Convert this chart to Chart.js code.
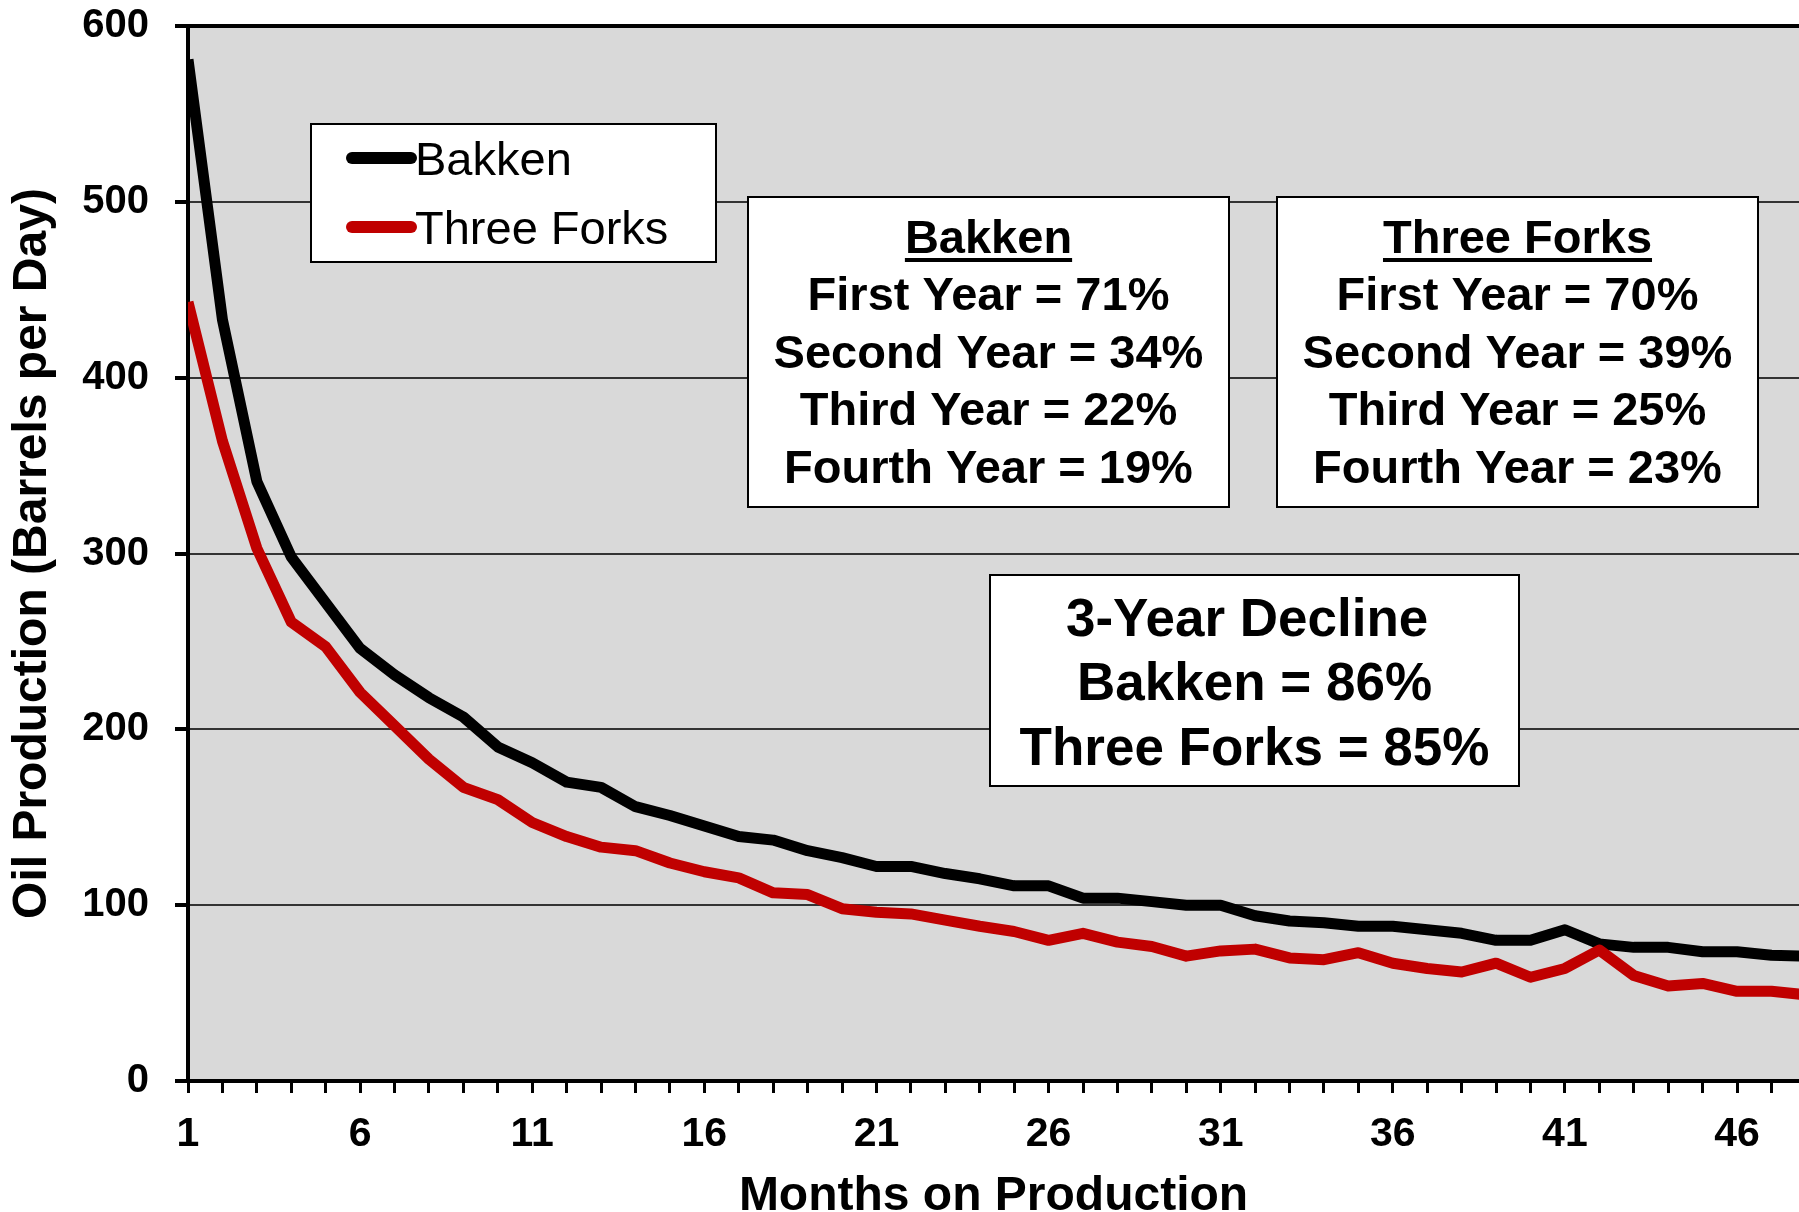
<!DOCTYPE html>
<html>
<head>
<meta charset="utf-8">
<title>Bakken vs Three Forks decline</title>
<script src="https://cdn.jsdelivr.net/npm/chart.js@4.4.1/dist/chart.umd.min.js"></script>
<style>
    html, body { margin: 0; padding: 0; background: #fff; overflow: hidden; }
    #wrap { width: 1799px; height: 1212px; position: relative; }
</style>
</head>
<body>
<div id="wrap"><canvas id="declineChart"></canvas></div>
<script>
// months on production
const months = [1, 2, 3, 4, 5, 6, 7, 8, 9, 10, 11, 12, 13, 14, 15, 16, 17, 18, 19, 20, 21, 22, 23, 24,
                25, 26, 27, 28, 29, 30, 31, 32, 33, 34, 35, 36, 37, 38, 39, 40, 41, 42, 43, 44, 45, 46, 47, 48];

// oil production, barrels per day
const bakken = [581, 433, 341, 298, 272, 246, 231, 218, 207, 190, 181, 170, 167, 156, 151, 145, 139, 137, 131, 127, 122, 122, 118, 115,
                111, 111, 104, 104, 102, 100, 100, 94, 91, 90, 88, 88, 86, 84, 80, 80, 86, 78, 76, 76, 73.5, 73.5, 71.5, 71];
const threeForks = [443, 364, 303, 261, 247, 221, 202, 183, 167, 160, 147, 139, 133, 131, 124, 119, 115.5, 107, 106, 98, 96, 95, 91.5, 88,
                    85, 80, 84, 79, 76.5, 71, 74, 75, 70, 69, 73, 67, 64, 62, 67, 59, 64, 74.5, 60, 54, 55.5, 51, 51, 49];

const xTickLabels = [1, 6, 11, 16, 21, 26, 31, 36, 41, 46];
const seriesNames = ['Bakken', 'Three Forks'];
const seriesColors = ['#000000', '#c00000'];

const bakkenBox = ['Bakken', 'First Year = 71%', 'Second Year = 34%', 'Third Year = 22%', 'Fourth Year = 19%'];
const forksBox = ['Three Forks', 'First Year = 70%', 'Second Year = 39%', 'Third Year = 25%', 'Fourth Year = 23%'];
const declineBox = ['3-Year Decline ', 'Bakken = 86%', 'Three Forks = 85%'];

const FONT = "'Liberation Sans', Arial, sans-serif";

// draws plot background, legend and the text boxes
const decorPlugin = {
    id: 'decor',
    beforeDraw(chart) {
        const a = chart.chartArea;
        const ctx = chart.ctx;
        ctx.save();
        ctx.fillStyle = '#d9d9d9';
        ctx.fillRect(a.left, a.top, a.right - a.left, a.bottom - a.top);
        ctx.restore();
    },
    afterDatasetsDraw(chart) {
        const ctx = chart.ctx;
        ctx.save();

        // legend
        drawBox(ctx, 311, 124, 716, 262);
        const legendY = [158, 227];
        seriesNames.forEach((name, i) => {
            ctx.strokeStyle = seriesColors[i];
            ctx.lineWidth = 12;
            ctx.lineCap = 'round';
            ctx.beginPath();
            ctx.moveTo(352, legendY[i]);
            ctx.lineTo(411, legendY[i]);
            ctx.stroke();
            ctx.fillStyle = '#000';
            ctx.font = '47px ' + FONT;
            ctx.textAlign = 'left';
            ctx.textBaseline = 'alphabetic';
            ctx.fillText(name, 415, legendY[i] + 17);
        });

        drawTextBox(ctx, bakkenBox, [748, 197, 1229, 507], [253, 310, 368, 425, 483], 47, true);
        drawTextBox(ctx, forksBox, [1277, 197, 1758, 507], [253, 310, 368, 425, 483], 47, true);
        drawTextBox(ctx, declineBox, [990, 575, 1519, 786], [636, 700, 765], 53, false);

        ctx.restore();
    }
};

function drawBox(ctx, x1, y1, x2, y2) {
    ctx.fillStyle = '#ffffff';
    ctx.fillRect(x1, y1, x2 - x1, y2 - y1);
    ctx.strokeStyle = '#000';
    ctx.lineWidth = 2;
    ctx.strokeRect(x1, y1, x2 - x1, y2 - y1);
}

function drawTextBox(ctx, lines, rect, baselines, size, underlineTitle) {
    drawBox(ctx, rect[0], rect[1], rect[2], rect[3]);
    const cx = (rect[0] + rect[2]) / 2;
    ctx.fillStyle = '#000';
    ctx.font = 'bold ' + size + 'px ' + FONT;
    ctx.textAlign = 'center';
    ctx.textBaseline = 'alphabetic';
    lines.forEach((line, i) => {
        ctx.fillText(line, cx, baselines[i]);
        if (i === 0 && underlineTitle) {
            const w = ctx.measureText(line).width;
            ctx.fillRect(cx - w / 2, baselines[i] + 5, w, 4);
        }
    });
}

const ctx = document.getElementById('declineChart').getContext('2d');

new Chart(ctx, {
    type: 'line',
    data: {
        datasets: [{
            label: seriesNames[0],
            data: months.map((m, i) => ({ x: m, y: bakken[i] })),
            borderColor: seriesColors[0],
            borderWidth: 11,
            pointRadius: 0,
            tension: 0,
            borderJoinStyle: 'round',
            order: 1
        }, {
            label: seriesNames[1],
            data: months.map((m, i) => ({ x: m, y: threeForks[i] })),
            borderColor: seriesColors[1],
            borderWidth: 11,
            pointRadius: 0,
            tension: 0,
            borderJoinStyle: 'round',
            order: 0
        }]
    },
    options: {
        responsive: true,
        maintainAspectRatio: false,
        animation: false,
        layout: { padding: { top: 26, left: 0, right: 0, bottom: 0 } },
        plugins: {
            legend: { display: false },
            tooltip: { enabled: false }
        },
        scales: {
            x: {
                type: 'linear',
                min: 1,
                max: 47.8,
                afterBuildTicks: scale => {
                    scale.ticks = months.filter(m => m < 47.8).map(m => ({ value: m }));
                },
                afterFit: scale => {
                    scale.height = 131;
                    scale.paddingLeft = 0;
                    scale.paddingRight = 0;
                },
                ticks: {
                    autoSkip: false,
                    maxRotation: 0,
                    minRotation: 0,
                    padding: 17,
                    color: '#000',
                    font: { family: FONT, size: 41, weight: 'bold' },
                    callback: value => xTickLabels.includes(value) ? String(value) : ''
                },
                grid: {
                    drawOnChartArea: false,
                    drawTicks: true,
                    tickLength: 12,
                    tickColor: '#000',
                    tickWidth: 3
                },
                border: { display: true, color: '#000', width: 4 },
                title: {
                    display: true,
                    text: 'Months on Production',
                    color: '#000',
                    font: { family: FONT, size: 48, weight: 'bold', lineHeight: 0.62 },
                    padding: { top: 0, bottom: 0 }
                }
            },
            y: {
                min: 0,
                max: 600,
                afterFit: scale => {
                    scale.width = 188;
                    scale.paddingTop = 0;
                    scale.paddingBottom = 0;
                },
                ticks: {
                    stepSize: 100,
                    padding: 26,
                    color: '#000',
                    font: { family: FONT, size: 40, weight: 'bold' }
                },
                grid: {
                    color: c => (c.tick && c.tick.value === 600) ? '#000' : '#333',
                    lineWidth: c => (c.tick && c.tick.value === 600) ? 4 : 2,
                    tickLength: 13,
                    tickColor: '#000',
                    tickWidth: 4
                },
                border: { display: true, color: '#000', width: 4 },
                title: {
                    display: true,
                    text: 'Oil Production (Barrels per Day)',
                    color: '#000',
                    font: { family: FONT, size: 48, weight: 'bold', lineHeight: 1 },
                    padding: { top: 9, bottom: 0 }
                }
            }
        }
    },
    plugins: [decorPlugin]
});
</script>
</body>
</html>
